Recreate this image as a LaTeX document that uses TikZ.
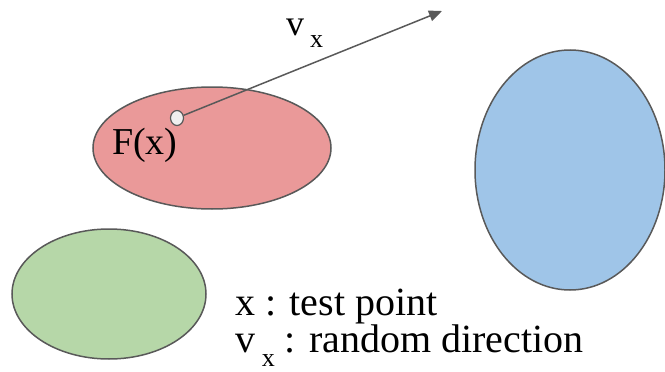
\documentclass[tikz,border=0pt]{standalone}
\usepackage{fontspec}
\setmainfont{Liberation Serif}
\usetikzlibrary{arrows.meta,shapes.geometric}

\definecolor{edgegray}{HTML}{595959}
\definecolor{redfill}{HTML}{EA9999}
\definecolor{greenfill}{HTML}{B6D7A8}
\definecolor{bluefill}{HTML}{9FC5E8}
\definecolor{ptfill}{HTML}{EFEFEF}

\tikzset{
  region/.style={ellipse, draw=edgegray, line width=1.5pt, inner sep=0pt},
  label/.style={inner sep=0pt, anchor=base west},
}

% low subscript, as the drawing sets it
\newcommand{\lowsub}[1]{\raisebox{-0.34em}{\fontsize{26}{26}\selectfont #1}}

\begin{document}
\begin{tikzpicture}[x=1pt,y=-1pt]
  \useasboundingbox (0,0) rectangle (665,372);

  % ----------------------------------------------------------------
  % the three regions
  % ----------------------------------------------------------------
  \node[region, fill=redfill, minimum width=238pt, minimum height=122pt]
    (red) at (212,148) {};
  \node[region, fill=bluefill, minimum width=190pt, minimum height=240pt]
    (blue) at (570,170) {};
  \node[region, fill=greenfill, minimum width=194pt, minimum height=130pt]
    (green) at (109,294) {};

  % test point and its direction
  \node[ellipse, draw=edgegray, fill=ptfill, line width=1.2pt,
        minimum width=13pt, minimum height=15pt, inner sep=0pt]
    (pt) at (177,118) {};
  \coordinate (tip) at (442,11);
  \draw[edgegray, line width=1.5pt, -{Triangle[length=13pt,width=11pt]}]
    (pt) -- (tip);

  % ----------------------------------------------------------------
  % texts
  % ----------------------------------------------------------------
  \node[label, font=\fontsize{38}{40}\selectfont] (fx) at (112,154) {F(x)};
  \node[label, font=\fontsize{36}{40}\selectfont] (vx) at (286,35) {v\,\lowsub{x}};

  % key
  \node[label, anchor=north west, align=left, font=\fontsize{40}{37}\selectfont]
    (key) at (235,289) {x : test point\\ v\,\lowsub{x} : random direction};

\end{tikzpicture}
\end{document}
